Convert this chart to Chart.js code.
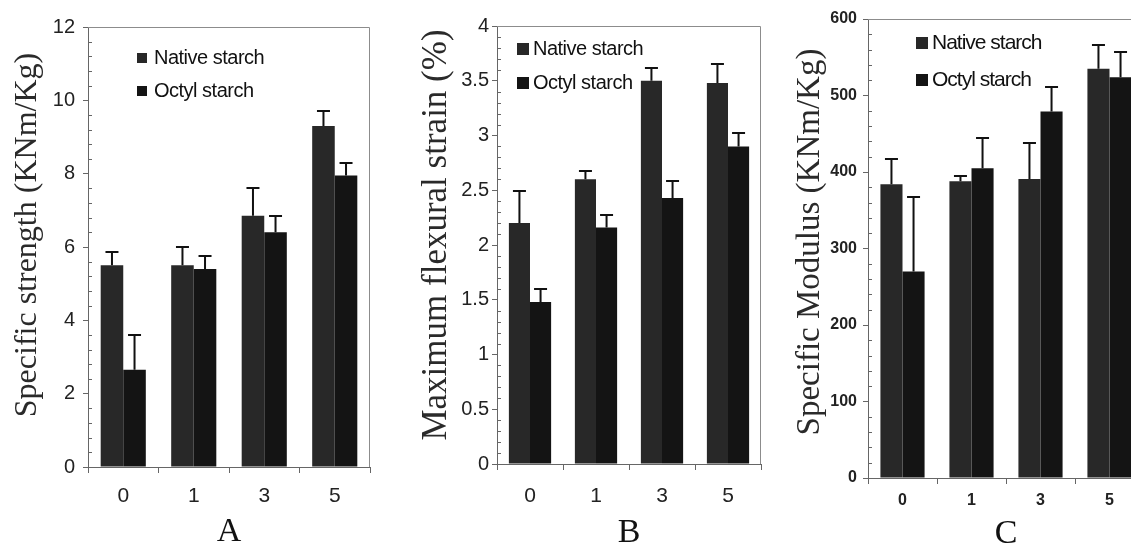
<!DOCTYPE html>
<html>
<head>
<meta charset="utf-8">
<script src="https://cdn.jsdelivr.net/npm/chart.js@4.4.0/dist/chart.umd.min.js"></script>
<style>
  html, body { margin: 0; padding: 0; background: #fff; overflow: hidden; width: 1131px; height: 544px; }
  canvas { position: absolute; top: 0; }
</style>
</head>
<body>
<canvas id="chartA" width="380" height="544" style="left:0px"></canvas>
<canvas id="chartB" width="385" height="544" style="left:380px"></canvas>
<canvas id="chartC" width="380" height="544" style="left:765px"></canvas>
<script>
// octyl content groups on the x axis
const groups = ['0', '1', '3', '5'];
const seriesNames = ['Native starch', 'Octyl starch'];

// A - specific strength
const nativeStrength = [5.5, 5.5, 6.85, 9.3];
const nativeStrengthErr = [0.35, 0.5, 0.75, 0.4];
const octylStrength = [2.65, 5.4, 6.4, 7.95];
const octylStrengthErr = [0.95, 0.35, 0.45, 0.35];

// B - maximum flexural strain
const nativeStrain = [2.2, 2.6, 3.5, 3.48];
const nativeStrainErr = [0.29, 0.08, 0.12, 0.17];
const octylStrain = [1.48, 2.16, 2.43, 2.9];
const octylStrainErr = [0.12, 0.11, 0.15, 0.12];

// C - specific modulus
const nativeModulus = [384, 388, 391, 535];
const nativeModulusErr = [33, 7, 47, 31];
const octylModulus = [270, 405, 479, 524];
const octylModulusErr = [97, 39, 32, 33];

const serif = '"Liberation Serif", "Times New Roman", serif';
const sans = '"Liberation Sans", Arial, sans-serif';

// upward error bars with a cap
const errorBars = {
    id: 'errorBars',
    afterDatasetsDraw(chart, args, opts) {
        const ctx = chart.ctx;
        const y = chart.scales.y;
        ctx.save();
        ctx.strokeStyle = '#111';
        ctx.lineWidth = 2;
        chart.data.datasets.forEach((ds, i) => {
            chart.getDatasetMeta(i).data.forEach((bar, j) => {
                const top = Math.round(y.getPixelForValue(ds.data[j] + ds.errors[j]));
                ctx.beginPath();
                ctx.moveTo(bar.x, bar.y);
                ctx.lineTo(bar.x, top);
                ctx.moveTo(bar.x - opts.cap / 2, top);
                ctx.lineTo(bar.x + opts.cap / 2, top);
                ctx.stroke();
            });
        });
        ctx.restore();
    }
};

// box around plot, minor ticks, y title, legend inside the plot
const frame = {
    id: 'frame',
    afterDraw(chart, args, opts) {
        const ctx = chart.ctx;
        const a = chart.chartArea;
        const y = chart.scales.y;
        ctx.save();
        ctx.strokeStyle = '#8c8c8c';
        ctx.lineWidth = 1;
        ctx.beginPath();
        ctx.moveTo(a.left, a.top + 0.5);
        ctx.lineTo(a.right - 0.5, a.top + 0.5);
        ctx.lineTo(a.right - 0.5, a.bottom);
        ctx.stroke();

        ctx.strokeStyle = '#666';
        ctx.beginPath();
        const t = y.ticks;
        for (let k = 0; k < t.length - 1; k++) {
            for (let m = 1; m < 5; m++) {
                const v = t[k].value + (t[k + 1].value - t[k].value) * m / 5;
                const py = Math.round(y.getPixelForValue(v)) + 0.5;
                ctx.moveTo(a.left, py);
                ctx.lineTo(a.left + 4, py);
            }
        }
        ctx.stroke();

        // axis title, centred where the original puts it
        ctx.save();
        ctx.translate(opts.titleX, opts.titleY);
        ctx.rotate(-Math.PI / 2);
        ctx.font = opts.titleSize + 'px ' + serif;
        ctx.fillStyle = '#2a2a2a';
        ctx.textAlign = 'center';
        ctx.textBaseline = 'middle';
        ctx.fillText(opts.title, 0, 0);
        ctx.restore();

        ctx.font = opts.size + 'px ' + sans;
        ctx.letterSpacing = opts.spacing;
        ctx.textBaseline = 'middle';
        chart.data.datasets.forEach((ds, i) => {
            const cy = a.top + opts.rows[i];
            ctx.fillStyle = ds.backgroundColor;
            ctx.fillRect(a.left + opts.boxX, cy - opts.box / 2, opts.box, opts.box);
            ctx.fillStyle = '#111';
            ctx.fillText(ds.label, a.left + opts.textX, cy);
        });
        ctx.restore();
    }
};

function loadChart(id, nativeData, nativeErr, octylData, octylErr, cfg) {
    const ctx = document.getElementById(id);
    new Chart(ctx, {
        type: 'bar',
        data: {
            labels: groups,
            datasets: [{
                label: seriesNames[0],
                data: nativeData,
                errors: nativeErr,
                backgroundColor: '#282828',
                categoryPercentage: 0.64,
                barPercentage: 1.0,
            }, {
                label: seriesNames[1],
                data: octylData,
                errors: octylErr,
                backgroundColor: '#141414',
                categoryPercentage: 0.64,
                barPercentage: 1.0,
            }]
        },
        options: {
            responsive: false,
            animation: false,
            layout: { padding: { top: cfg.top, right: cfg.right, left: 0, bottom: 0 } },
            scales: {
                x: {
                    ticks: {
                        color: '#222',
                        padding: cfg.xPad,
                        font: { family: sans, size: cfg.xSize, weight: cfg.weight }
                    },
                    grid: { drawOnChartArea: false, tickLength: 6, color: '#666', offset: true },
                    border: { color: '#666' },
                    title: {
                        display: true,
                        text: cfg.letter,
                        color: '#111',
                        padding: 0,
                        font: { family: serif, size: 34, lineHeight: cfg.letterLh }
                    },
                    afterFit: (s) => { s.height = cfg.xHeight; }
                },
                y: {
                    min: 0,
                    max: cfg.max,
                    ticks: {
                        stepSize: cfg.step,
                        color: '#222',
                        padding: cfg.yPad,
                        font: { family: sans, size: cfg.ySize, weight: cfg.weight },
                        callback: (v) => String(v)
                    },
                    grid: { drawOnChartArea: false, tickLength: 5, color: '#666' },
                    border: { color: '#666' },
                    afterFit: (s) => { s.width = cfg.yWidth; }
                }
            },
            plugins: {
                legend: { display: false },
                tooltip: { enabled: false },
                errorBars: { cap: 13 },
                frame: cfg.legend
            }
        },
        plugins: [errorBars, frame]
    });
}

loadChart('chartA', nativeStrength, nativeStrengthErr, octylStrength, octylStrengthErr, {
    top: 27, right: 10, yWidth: 88, xHeight: 77, max: 12, step: 2,
    xPad: 11, yPad: 8, xSize: 21, ySize: 20, weight: 'normal',
    letter: 'A', letterLh: '24px',
    legend: {
        title: 'Specific strength (KNm/Kg)', titleSize: 32, titleX: 28, titleY: 235,
        boxX: 49, textX: 66, rows: [31, 64], box: 10, size: 20, spacing: '-0.5px'
    }
});

loadChart('chartB', nativeStrain, nativeStrainErr, octylStrain, octylStrainErr, {
    top: 26, right: 4, yWidth: 117, xHeight: 80, max: 4, step: 0.5,
    xPad: 14, yPad: 3, xSize: 21, ySize: 20, weight: 'normal',
    letter: 'B', letterLh: '21px',
    legend: {
        title: 'Maximum flexural strain (%)', titleSize: 35, titleX: 57, titleY: 235,
        boxX: 20, textX: 36, rows: [23, 57], box: 12, size: 20, spacing: '-0.5px'
    }
});

loadChart('chartC', nativeModulus, nativeModulusErr, octylModulus, octylModulusErr, {
    top: 19, right: 1, yWidth: 103, xHeight: 66, max: 600, step: 100,
    xPad: 7, yPad: 6, xSize: 16, ySize: 16, weight: 'bold',
    letter: 'C', letterLh: '20px',
    legend: {
        title: 'Specific Modulus (KNm/Kg)', titleSize: 33, titleX: 45, titleY: 242,
        boxX: 48, textX: 64, rows: [24, 61], box: 12, size: 21, spacing: '-1px'
    }
});
</script>
</body>
</html>
